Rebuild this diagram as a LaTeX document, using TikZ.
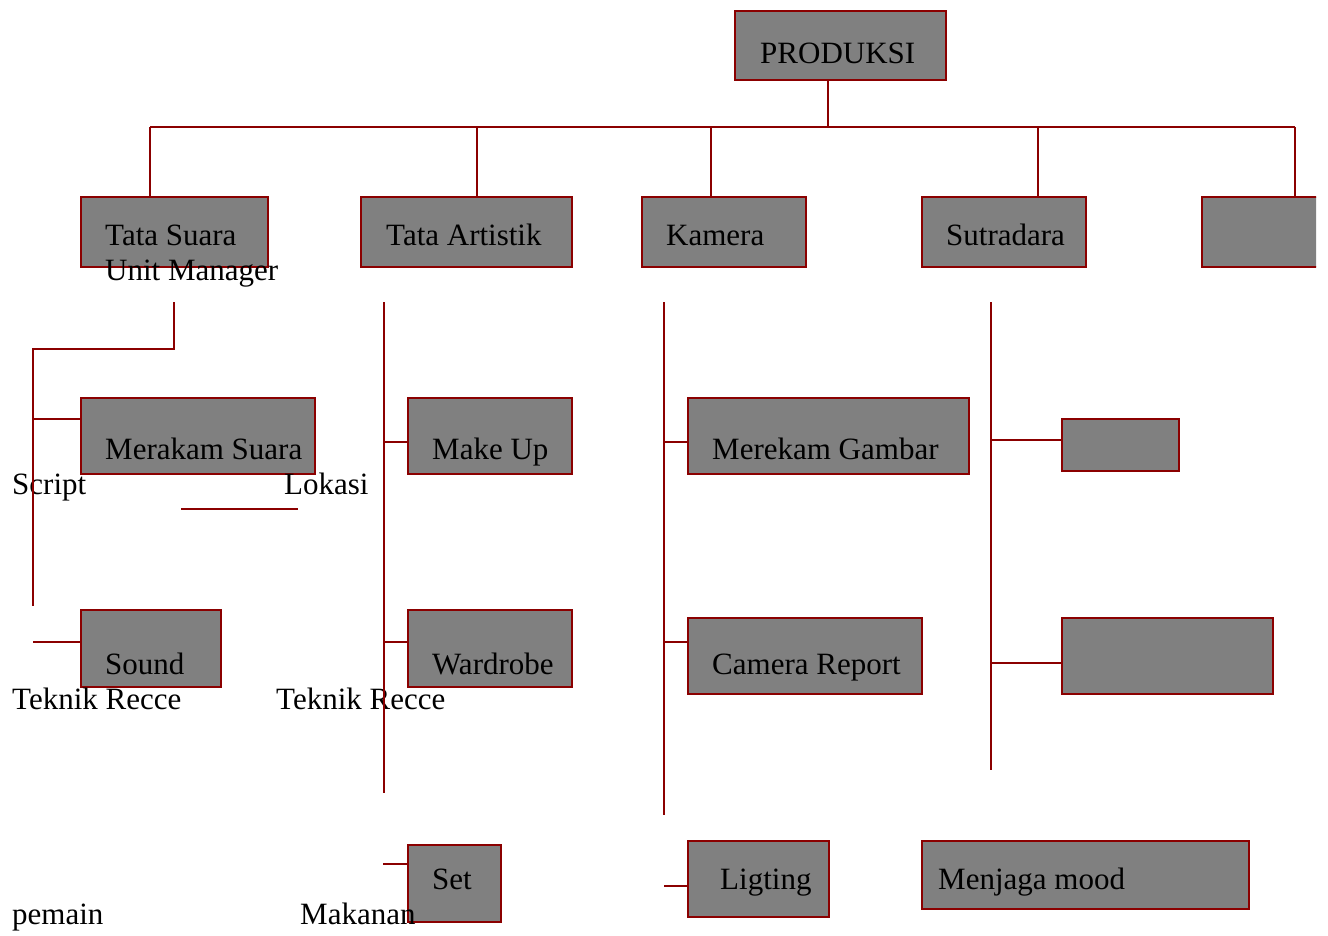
\documentclass[tikz,border=0pt]{standalone}
\usepackage{fontspec}
\setmainfont{Liberation Serif}
\definecolor{lc}{RGB}{139,0,0}
\definecolor{bx}{RGB}{128,128,128}
\begin{document}
\begin{tikzpicture}[x=1pt,y=-1pt,
 box/.style={draw=lc, fill=bx, line width=1.6pt, anchor=north west, inner sep=0pt},
 lbl/.style={anchor=base west, inner sep=0pt, font=\fontsize{31}{37}\selectfont},
 ln/.style={draw=lc, line width=1.6pt}]
\useasboundingbox (0,0) rectangle (1328,936);
% boxes
\node[box, minimum width=211pt, minimum height=69pt] (produksi) at (734,10) {};
\node[box, minimum width=187pt, minimum height=70pt] (tatasuara) at (80,196) {};
\node[box, minimum width=211pt, minimum height=70pt] (tataart) at (360,196) {};
\node[box, minimum width=164pt, minimum height=70pt] (kamera) at (641,196) {};
\node[box, minimum width=164pt, minimum height=70pt] (sutradara) at (921,196) {};
\begin{scope}
\clip (0,0) rectangle (1316,936);
\node[box, minimum width=140pt, minimum height=70pt] (blank1) at (1201,196) {};
\end{scope}
\node[box, minimum width=234pt, minimum height=76pt] (merakam) at (80,397) {};
\node[box, minimum width=164pt, minimum height=76pt] (makeup) at (407,397) {};
\node[box, minimum width=281pt, minimum height=76pt] (merekam) at (687,397) {};
\node[box, minimum width=117pt, minimum height=52pt] (blank2) at (1061,418) {};
\node[box, minimum width=140pt, minimum height=77pt] (sound) at (80,609) {};
\node[box, minimum width=164pt, minimum height=77pt] (wardrobe) at (407,609) {};
\node[box, minimum width=234pt, minimum height=76pt] (camrep) at (687,617) {};
\node[box, minimum width=211pt, minimum height=76pt] (blank3) at (1061,617) {};
\node[box, minimum width=93pt, minimum height=77pt] (set) at (407,844) {};
\node[box, minimum width=141pt, minimum height=76pt] (ligting) at (687,840) {};
\node[box, minimum width=327pt, minimum height=68pt] (menjaga) at (921,840) {};
% labels
\node[lbl] (tProduksi) at (760,64) {PRODUKSI};
\node[lbl] (tTataSuara) at (105,245) {Tata Suara};
\node[lbl] (tUnit) at (105,280) {Unit Manager};
\node[lbl] (tTataArt) at (386,245) {Tata Artistik};
\node[lbl] (tKamera) at (666,245) {Kamera};
\node[lbl] (tSutradara) at (946,245) {Sutradara};
\node[lbl] (tMerakam) at (105,459) {Merakam Suara};
\node[lbl] (tScript) at (12,494) {Script};
\node[lbl] (tLokasi) at (284,494) {Lokasi};
\node[lbl] (tMakeUp) at (432,459) {Make Up};
\node[lbl] (tMerekam) at (712,459) {Merekam Gambar};
\node[lbl] (tSound) at (105,674) {Sound};
\node[lbl] (tTeknik1) at (12,709) {Teknik Recce};
\node[lbl] (tTeknik2) at (276,709) {Teknik Recce};
\node[lbl] (tWardrobe) at (432,674) {Wardrobe};
\node[lbl] (tCamRep) at (712,674) {Camera Report};
\node[lbl] (tSet) at (432,889) {Set};
\node[lbl] (tLigting) at (720,889) {Ligting};
\node[lbl] (tMenjaga) at (938,889) {Menjaga mood};
\node[lbl] (tPemain) at (12,924) {pemain};
\node[lbl] (tMakanan) at (300,924) {Makanan};
% top bus
\coordinate (bus) at (828,127);
\coordinate (busL) at (150,127);
\coordinate (busR) at (1295,127);
\coordinate (dA) at (477,127);
\coordinate (dK) at (711,127);
\coordinate (dS) at (1038,127);
\draw[ln] (produksi.south -| bus) -- (bus);
\draw[ln] (busL) -- (busR);
\draw[ln] (busL) -- (tatasuara.north -| busL);
\draw[ln] (dA) -- (tataart.north -| dA);
\draw[ln] (dK) -- (kamera.north -| dK);
\draw[ln] (dS) -- (sutradara.north -| dS);
\draw[ln] (busR) -- (blank1.north -| busR);
% Tata Suara column
\coordinate (s1) at (174,302);
\coordinate (s2) at (174,349);
\coordinate (s3) at (33,349);
\coordinate (s4) at (33,606);
\coordinate (s5) at (33,642);
\coordinate (s6) at (33,419);
\draw[ln] (s1) -- (s2) -- (s3) -- (s4);
\draw[ln] (s6) -- (merakam.west |- s6);
\draw[ln] (s5) -- (sound.west |- s5);
\coordinate (u1) at (181,509);
\coordinate (u2) at (298,509);
\draw[ln] (u1) -- (u2);
% Tata Artistik column
\coordinate (a1) at (384,302);
\coordinate (a2) at (384,793);
\coordinate (a3) at (384,442);
\coordinate (a4) at (384,642);
\coordinate (a5) at (383,864);
\draw[ln] (a1) -- (a2);
\draw[ln] (a3) -- (makeup.west |- a3);
\draw[ln] (a4) -- (wardrobe.west |- a4);
\draw[ln] (a5) -- (set.west |- a5);
% Kamera column
\coordinate (k1) at (664,302);
\coordinate (k2) at (664,815);
\coordinate (k3) at (664,442);
\coordinate (k4) at (664,642);
\coordinate (k5) at (664,886);
\draw[ln] (k1) -- (k2);
\draw[ln] (k3) -- (merekam.west |- k3);
\draw[ln] (k4) -- (camrep.west |- k4);
\draw[ln] (k5) -- (ligting.west |- k5);
% Sutradara column
\coordinate (r1) at (991,302);
\coordinate (r2) at (991,770);
\coordinate (r3) at (991,440);
\coordinate (r4) at (991,663);
\draw[ln] (r1) -- (r2);
\draw[ln] (r3) -- (blank2.west |- r3);
\draw[ln] (r4) -- (blank3.west |- r4);
\end{tikzpicture}
\end{document}
